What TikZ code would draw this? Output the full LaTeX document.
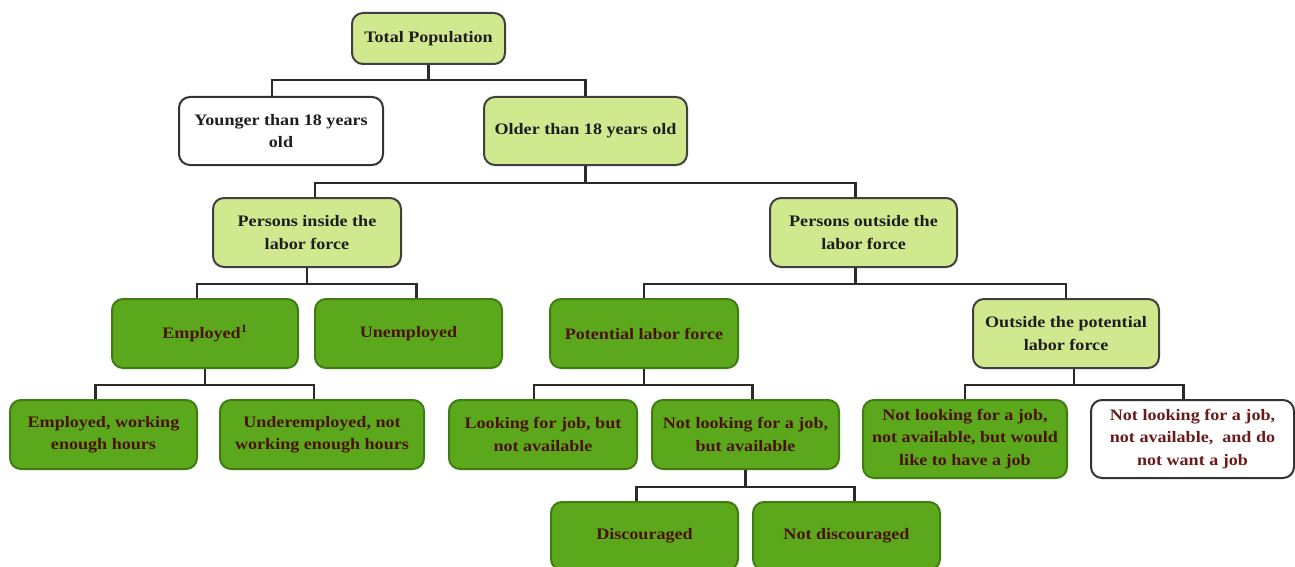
\documentclass[tikz,border=0pt]{standalone}
\usepackage{fontspec}
\setmainfont{Liberation Serif}[FakeStretch=1.13]
\definecolor{lightfill}{HTML}{D0E98F}
\definecolor{darkfill}{HTML}{5CA81C}
\definecolor{darkbord}{HTML}{3F7D13}
\definecolor{graybord}{HTML}{404040}
\definecolor{darktxt}{HTML}{4A1206}
\definecolor{lighttxt}{HTML}{1E1E1E}
\definecolor{wanttxt}{HTML}{6A1B1B}
\definecolor{linecol}{HTML}{2A2A2A}
\tikzset{
  box/.style={rounded corners=11pt, line width=2pt, align=center, inner sep=0pt,
    font=\fontsize{16}{22.5}\selectfont\bfseries},
  lbox/.style={box, draw=graybord, fill=lightfill, text=lighttxt},
  wbox/.style={box, draw=graybord!80!black, fill=white, text=lighttxt},
  gbox/.style={box, draw=darkbord, fill=darkfill, text=darktxt},
  conn/.style={draw=linecol, line width=2.4pt},
}
\newcommand\cnx[5]{\draw[conn] ([xshift=#2]#1.south) -- ([xshift=#2]#1.south |- 0,-#3) -| ([xshift=#5]#4.north);}
\begin{document}
\begin{tikzpicture}[x=1pt,y=1pt]
\useasboundingbox (0,0) rectangle (1295,-567);
% row 0
\node[lbox, minimum width=153, minimum height=51] (tp) at (428.5,-38.5) {Total Population};
% row 1
\node[wbox, minimum width=204, minimum height=68] (young) at (281,-131) {Younger than 18 years\\old};
\node[lbox, minimum width=203, minimum height=68] (old) at (585.5,-131) {Older than 18 years old};
% row 2
\node[lbox, minimum width=188, minimum height=69] (inside) at (307,-232.5) {Persons inside the\\labor force};
\node[lbox, minimum width=187, minimum height=69] (outside) at (863.5,-232.5) {Persons outside the\\labor force};
% row 3
\node[gbox, minimum width=186, minimum height=69] (emp) at (205,-333.5) {Employed\textsuperscript{1}};
\node[gbox, minimum width=187, minimum height=69] (unemp) at (408.5,-333.5) {Unemployed};
\node[gbox, minimum width=188, minimum height=69] (pot) at (644,-333.5) {Potential labor force};
\node[lbox, minimum width=186, minimum height=69] (outpot) at (1066,-333.5) {Outside the potential\\labor force};
% row 4
\node[gbox, minimum width=187, minimum height=69] (empw) at (103.5,-434.5) {Employed, working\\enough hours};
\node[gbox, minimum width=204, minimum height=69] (under) at (322,-434.5) {Underemployed, not\\working enough hours};
\node[gbox, minimum width=188, minimum height=69] (look) at (543,-434.5) {Looking for job, but\\not available};
\node[gbox, minimum width=187, minimum height=69] (notlook) at (745.5,-434.5) {Not looking for a job,\\but available};
\node[gbox, minimum width=204, minimum height=78] (would) at (965,-439) {Not looking for a job,\\not available, but would\\like to have a job};
\node[wbox, minimum width=203, minimum height=78, text=wanttxt] (nowant) at (1192.5,-439) {Not looking for a job,\\not available,~ and do\\not want a job};
% row 5
\node[gbox, minimum width=187, minimum height=68] (disc) at (644.5,-536) {Discouraged};
\node[gbox, minimum width=187, minimum height=68] (notdisc) at (846.5,-536) {Not discouraged};
% connectors
\cnx{tp}{0}{80}{young}{-9}
\cnx{tp}{0}{80}{old}{0}
\cnx{old}{0}{183}{inside}{8}
\cnx{old}{0}{183}{outside}{-8}
\cnx{inside}{0}{284}{emp}{-8}
\cnx{inside}{0}{284}{unemp}{8}
\cnx{outside}{-8}{284}{pot}{0}
\cnx{outside}{-8}{284}{outpot}{0}
\cnx{emp}{0}{385}{empw}{-8}
\cnx{emp}{0}{385}{under}{-8}
\cnx{pot}{0}{385}{look}{-9}
\cnx{pot}{0}{385}{notlook}{7}
\cnx{outpot}{8}{385}{would}{0}
\cnx{outpot}{8}{385}{nowant}{-9}
\cnx{notlook}{0}{487}{disc}{-8}
\cnx{notlook}{0}{487}{notdisc}{8}
\end{tikzpicture}
\end{document}
